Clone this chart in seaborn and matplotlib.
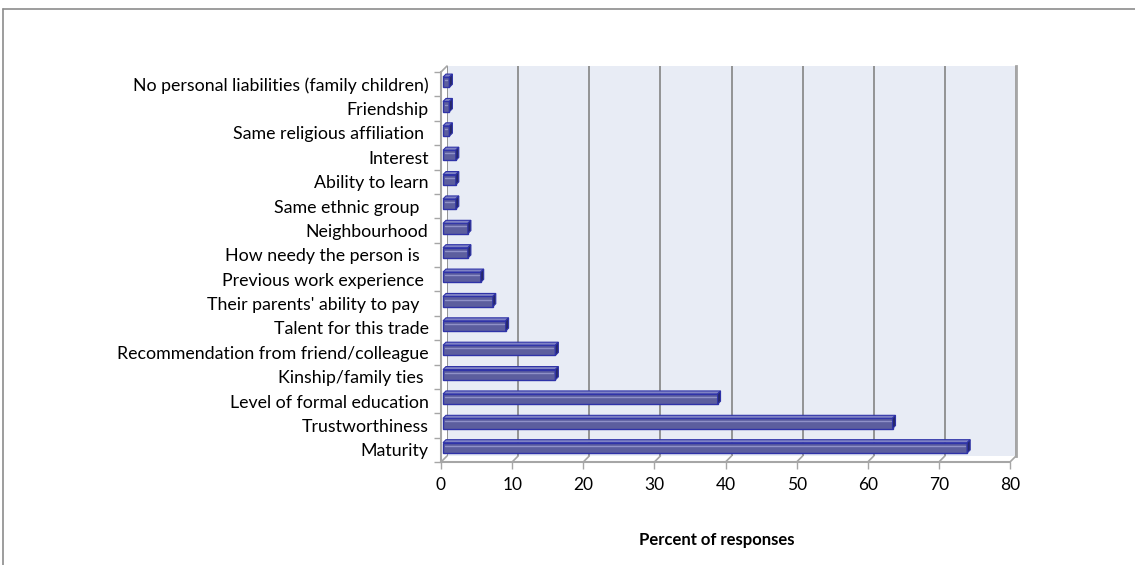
import matplotlib
matplotlib.use('Agg')
import matplotlib.pyplot as plt
from matplotlib.patches import Polygon
from matplotlib.lines import Line2D
import numpy as np
import pandas as pd
import seaborn as sns

categories = [
    "No personal liabilities (family children)",
    "Friendship",
    "Same religious affiliation ",
    "Interest",
    "Ability to learn",
    "Same ethnic group  ",
    "Neighbourhood",
    "How needy the person is  ",
    "Previous work experience ",
    "Their parents' ability to pay  ",
    "Talent for this trade",
    "Recommendation from friend/colleague",
    "Kinship/family ties ",
    "Level of formal education",
    "Trustworthiness",
    "Maturity",
]
values = [0.9, 0.9, 0.9, 1.8, 1.8, 1.8, 3.5, 3.5, 5.3, 7.0, 8.8, 15.8, 15.8, 38.6, 63.2, 73.7]
xticks = [0, 10, 20, 30, 40, 50, 60, 70, 80]
xlabel = "Percent of responses"

sns.set_theme(style='white')
plt.rcParams['font.family'] = ['Lato', 'DejaVu Sans']

W, H = 1135, 565
fig = plt.figure(figsize=(W / 100, H / 100), dpi=100)
fig.patch.set_facecolor('white')


def px_axes(l, t, r, b, **kw):
    return fig.add_axes([l / W, 1 - b / H, (r - l) / W, (b - t) / H], **kw)


DX, DY = 6, 6  # depth offset in pixels
GRID = '#8C8C8C'
AXC = '#A6A6A6'

# back wall
wall = px_axes(441 + DX, 72 - DY, 1010 + DX, 462 - DY)
wall.set_facecolor('#E8ECF5')
wall.set_xlim(0, 80)
wall.set_ylim(0, 1)
wall.set_xticks(xticks)
wall.set_yticks([])
wall.grid(axis='x', color=GRID, lw=1.3)
wall.tick_params(length=0, labelbottom=False)
for s in ['top', 'bottom', 'left']:
    wall.spines[s].set_visible(False)
wall.spines['right'].set_color(AXC)
wall.spines['right'].set_linewidth(2)

# front axes with bars
ax = px_axes(441, 72, 1010, 462)
ax.patch.set_alpha(0)
df = pd.DataFrame({'cat': categories, 'val': values})
FACE = '#5C5E9E'
EDGE = '#2F33A8'
sns.barplot(data=df, x='val', y='cat', orient='h', color=FACE, width=0.42,
            saturation=1, edgecolor=EDGE, linewidth=1.0, ax=ax)
ax.set_xlim(0, 80)
ax.set_ylim(len(categories) - 0.5, -0.5)
ax.set_xticks(xticks)
ax.set_xlabel('')
ax.set_ylabel('')
ax.set_yticks(np.arange(-0.5, len(categories), 1), minor=True)
ax.tick_params(axis='y', which='major', length=0, labelsize=12.8, pad=9, labelcolor='black')
ax.tick_params(axis='y', which='minor', length=5, width=1, color=AXC, left=True)
ax.tick_params(axis='x', which='major', length=5, width=1, color=AXC, bottom=True,
               labelsize=12.5, pad=6, labelcolor='black')
for s in ['top', 'right']:
    ax.spines[s].set_visible(False)
for s in ['left', 'bottom']:
    ax.spines[s].set_color(AXC)
    ax.spines[s].set_linewidth(1.5)

inv = fig.transFigure.inverted()


def to_fig(pts):
    return inv.transform(np.array(pts))


# floor diagonals
ybot = len(categories) - 0.5
ytop = -0.5
for t in xticks:
    p = ax.transData.transform((t, ybot))
    pts = to_fig([p, p + np.array([DX, DY])])
    fig.add_artist(Line2D(pts[:, 0], pts[:, 1], color=AXC, lw=1.2))
p = ax.transData.transform((0, ytop))
pts = to_fig([p, p + np.array([DX, DY])])
fig.add_artist(Line2D(pts[:, 0], pts[:, 1], color=AXC, lw=1.2))

# 3D bars
BD = 3.0  # bar depth px
for patch in ax.patches:
    x0, y0 = patch.get_x(), patch.get_y()
    w, h = patch.get_width(), patch.get_height()
    patch.set_transform(ax.transData + matplotlib.transforms.Affine2D().translate(2, 2))
    tl = ax.transData.transform((x0, y0)) + np.array([2, 2])
    tr = ax.transData.transform((x0 + w, y0)) + np.array([2, 2])
    br = ax.transData.transform((x0 + w, y0 + h)) + np.array([2, 2])
    d = np.array([BD, BD])
    top = to_fig([tl, tr, tr + d, tl + d])
    fig.add_artist(Polygon(top, closed=True, facecolor='#7F82C4', edgecolor=EDGE, lw=0.8))
    cap = to_fig([tr, br, br + d, tr + d])
    fig.add_artist(Polygon(cap, closed=True, facecolor='#26286A', edgecolor=EDGE, lw=0.8))
    hy = tl[1] - (tl[1] - br[1]) * 0.3
    hl = to_fig([[tl[0] + 2, hy], [tr[0] - 2, hy]])
    fig.add_artist(Line2D(hl[:, 0], hl[:, 1], color='#8F91C8', lw=1.0))

fig.text(717 / W, 1 - 540 / H, xlabel, ha='center', va='center',
         fontsize=12, fontweight='bold', color='black')

# outer chart border
fig.add_artist(Line2D([3 / W, 3 / W], [0, 1 - 9 / H], color='#8C8C8C', lw=1.2))
fig.add_artist(Line2D([3 / W, 1], [1 - 9 / H, 1 - 9 / H], color='#8C8C8C', lw=1.2))

fig.savefig('out.png', dpi=100)
